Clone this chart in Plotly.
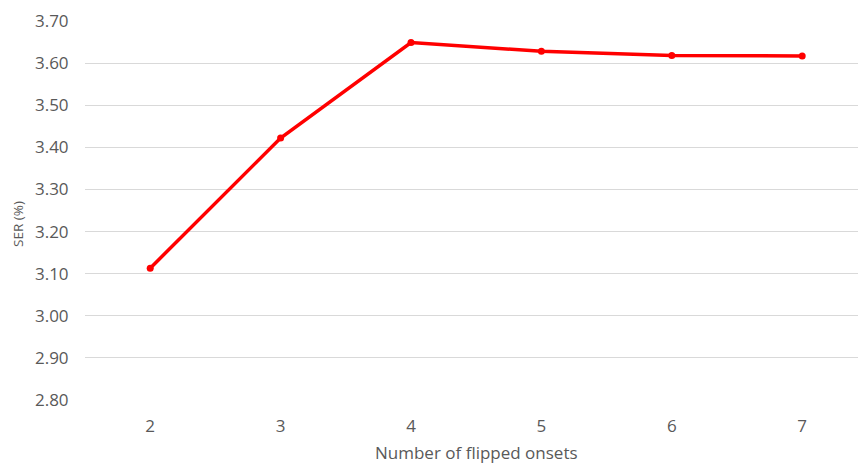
import plotly.graph_objects as go

# Symbol error rate against the number of flipped onsets
flipped_onsets = [2, 3, 4, 5, 6, 7]
ser_percent = [3.113, 3.422, 3.649, 3.628, 3.618, 3.617]
y_ticks = [2.80, 2.90, 3.00, 3.10, 3.20, 3.30, 3.40, 3.50, 3.60, 3.70]

TEXT = "#595959"
GRID = "#d9d9d9"
FONT = "Open Sans, Noto Sans, sans-serif"

# Plot area in pixels (top 21, bottom 400)
PLOT_TOP, PLOT_BOTTOM = 21, 400

fig = go.Figure(
    go.Scatter(
        x=flipped_onsets,
        y=ser_percent,
        mode="lines+markers",
        line=dict(color="#ff0000", width=3.5),
        marker=dict(color="#ff0000", size=7),
        hoverinfo="x+y",
    )
)

fig.update_layout(
    width=858,
    height=463,
    margin=dict(l=85, r=0, t=PLOT_TOP, b=463 - PLOT_BOTTOM),
    paper_bgcolor="white",
    plot_bgcolor="white",
    showlegend=False,
    font=dict(family=FONT, color=TEXT, size=14),
    xaxis=dict(
        range=[1.5, 7.428],
        tickvals=flipped_onsets,
        ticktext=[str(v) for v in flipped_onsets],
        showgrid=False,
        zeroline=False,
        showline=False,
        ticks="outside",
        ticklen=11,
        tickcolor="rgba(0,0,0,0)",
        tickfont=dict(size=17, color=TEXT),
    ),
    yaxis=dict(
        range=[2.80, 3.70],
        tickvals=y_ticks,
        tickformat=".2f",
        showgrid=True,
        gridcolor=GRID,
        gridwidth=1,
        zeroline=False,
        showline=False,
        ticks="outside",
        ticklen=12,
        tickcolor="rgba(0,0,0,0)",
        tickfont=dict(size=17, color=TEXT),
    ),
    annotations=[
        dict(
            text="Number of flipped onsets",
            x=4.5, xref="x",
            y=0, yref="paper",
            yshift=-52,
            yanchor="middle",
            showarrow=False,
            font=dict(size=17, color=TEXT),
        ),
        dict(
            text="SER (%)",
            x=0, xref="paper",
            xshift=18 - 85,
            y=(PLOT_BOTTOM - 224) / (PLOT_BOTTOM - PLOT_TOP), yref="paper",
            xanchor="center",
            yanchor="middle",
            textangle=-90,
            showarrow=False,
            font=dict(size=13.5, color=TEXT),
        ),
    ],
)

fig.write_html("out.html")
